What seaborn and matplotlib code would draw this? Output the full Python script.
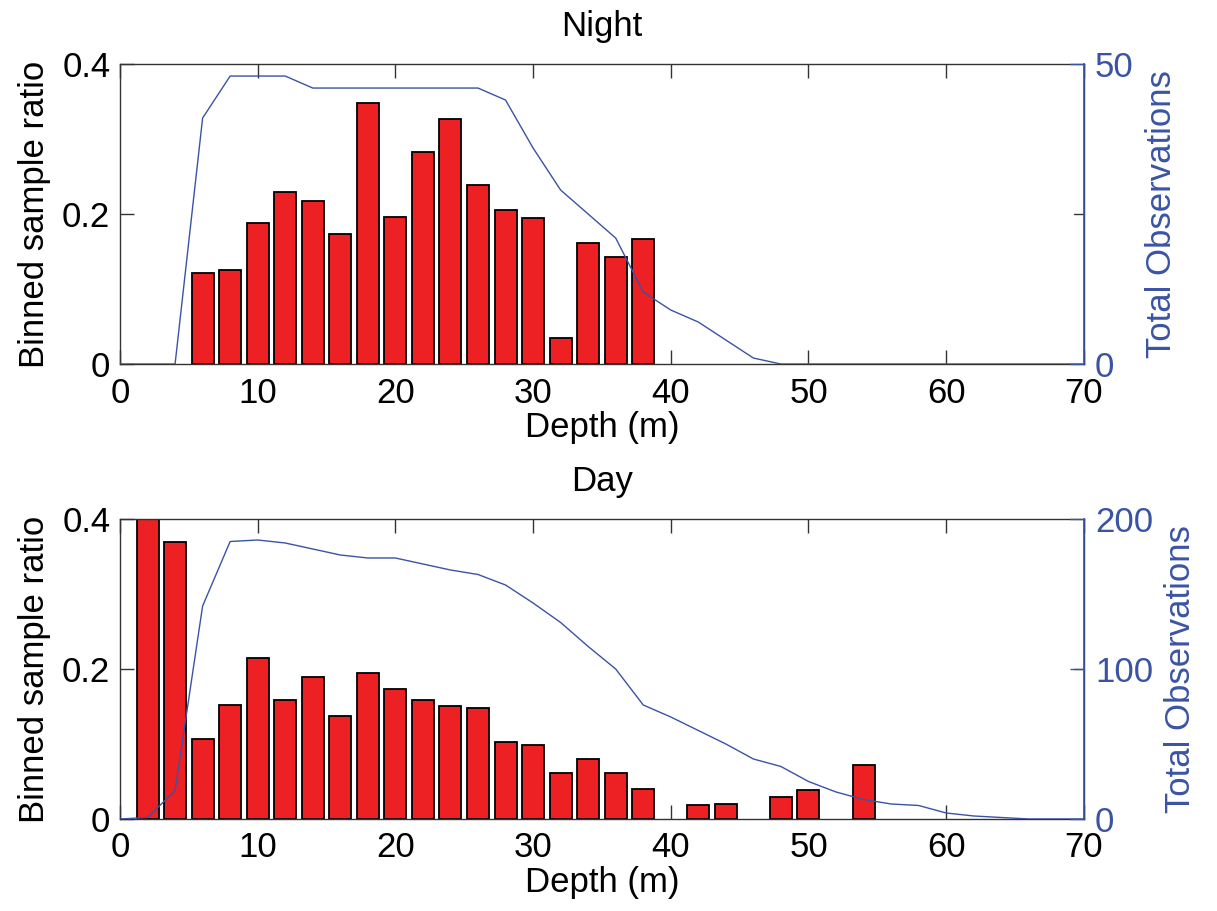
import matplotlib
matplotlib.use("Agg")
import matplotlib.pyplot as plt
import seaborn as sns
import numpy as np

# ---- data ----
night_depths = [6, 8, 10, 12, 14, 16, 18, 20, 22, 24, 26, 28, 30, 32, 34, 36, 38]
night_ratio = [0.122, 0.126, 0.188, 0.230, 0.218, 0.174, 0.348, 0.196, 0.283, 0.327,
               0.239, 0.205, 0.195, 0.035, 0.161, 0.143, 0.167]
night_obs_depths = [0, 2, 4, 6, 8, 10, 12, 14, 16, 18, 20, 22, 24, 26, 28, 30, 32, 34,
                    36, 38, 40, 42, 44, 46, 48, 50, 52, 54, 56, 58, 60, 62, 64, 66, 68, 70]
night_obs = [0, 0, 0, 41, 48, 48, 48, 46, 46, 46, 46, 46, 46, 46, 44, 36, 29, 25,
             21, 12, 9, 7, 4, 1, 0, 0, 0, 0, 0, 0, 0, 0, 0, 0, 0, 0]

day_depths = [2, 4, 6, 8, 10, 12, 14, 16, 18, 20, 22, 24, 26, 28, 30, 32, 34, 36, 38,
              42, 44, 48, 50, 54]
day_ratio = [0.42, 0.369, 0.106, 0.152, 0.215, 0.158, 0.189, 0.137, 0.195, 0.173,
             0.159, 0.151, 0.148, 0.102, 0.098, 0.061, 0.080, 0.061, 0.040,
             0.018, 0.020, 0.029, 0.038, 0.072]
day_obs_depths = night_obs_depths
day_obs = [0, 1, 19, 142, 185, 186, 184, 180, 176, 174, 174, 170, 166, 163, 156, 144,
           131, 115, 100, 76, 68, 59, 50, 40, 35, 25, 18, 13, 10, 9, 4, 2, 1, 0, 0, 0]

titles = ["Night", "Day"]
left_ticks = [0, 0.2, 0.4]
left_ticklabels = ["0", "0.2", "0.4"]
right_ticks = [[0, 50], [0, 100, 200]]
x_ticks = [0, 10, 20, 30, 40, 50, 60, 70]

# ---- style ----
sns.set_style("ticks")
plt.rcParams['font.family'] = ['Liberation Sans', 'DejaVu Sans']
plt.rcParams['text.color'] = 'black'
plt.rcParams['axes.labelcolor'] = 'black'

RED = "#ED2024"
BLUE = "#3A53A4"
FS = 25

fig = plt.figure(figsize=(12.17, 9.11), dpi=100)
ax_pos = [[0.0986, 0.6004, 0.792, 0.3293], [0.0986, 0.1010, 0.792, 0.3293]]

datasets = [(night_depths, night_ratio, night_obs_depths, night_obs),
            (day_depths, day_ratio, day_obs_depths, day_obs)]

for i, (dd, rr, od, oo) in enumerate(datasets):
    ax = fig.add_axes(ax_pos[i])
    sns.barplot(x=dd, y=rr, native_scale=True, color=RED, edgecolor="black",
                linewidth=1.3, width=0.8, saturation=1, ax=ax, zorder=2)
    ax.set_xlim(0, 70)
    ax.set_ylim(0, 0.4)
    ax.set_xticks(x_ticks)
    ax.set_xticklabels([str(t) for t in x_ticks], fontsize=FS)
    ax.set_yticks(left_ticks)
    ax.set_yticklabels(left_ticklabels, fontsize=FS)
    ax.tick_params(axis='both', direction='in', length=10, width=1, top=True,
                   right=False, colors='#333333', labelcolor='black')
    ax.tick_params(axis='x', pad=9)
    ax.tick_params(axis='y', pad=7)
    ax.set_xlabel("Depth (m)", fontsize=FS, labelpad=1)
    ax.set_ylabel("Binned sample ratio", fontsize=FS, labelpad=8)
    ax.set_title(titles[i], fontsize=FS, pad=20)
    for s in ax.spines.values():
        s.set_linewidth(1.0)
        s.set_color("#333333")

    ax2 = ax.twinx()
    sns.lineplot(x=od, y=oo, color=BLUE, linewidth=1.0, ax=ax2)
    ax2.set_xlim(0, 70)
    ax2.set_ylim(0, right_ticks[i][-1])
    ax2.set_yticks(right_ticks[i])
    ax2.set_yticklabels([str(t) for t in right_ticks[i]], fontsize=FS, color=BLUE)
    ax2.tick_params(axis='y', direction='in', length=10, width=1, colors=BLUE,
                    labelcolor=BLUE, pad=8)
    ax2.set_ylabel("Total Observations", fontsize=FS, color=BLUE, labelpad=8)
    ax2.spines['right'].set_color(BLUE)
    ax2.spines['right'].set_linewidth(1.2)
    for s in ['top', 'left', 'bottom']:
        ax2.spines[s].set_visible(False)
    # left-axis ticks mirrored on right side (black), as in MATLAB box
    for yt in left_ticks[1:-1]:
        ax.plot([69.25, 70], [yt, yt], color='#333333', lw=1, clip_on=False, zorder=3)

fig.savefig("out.png", dpi=100)
